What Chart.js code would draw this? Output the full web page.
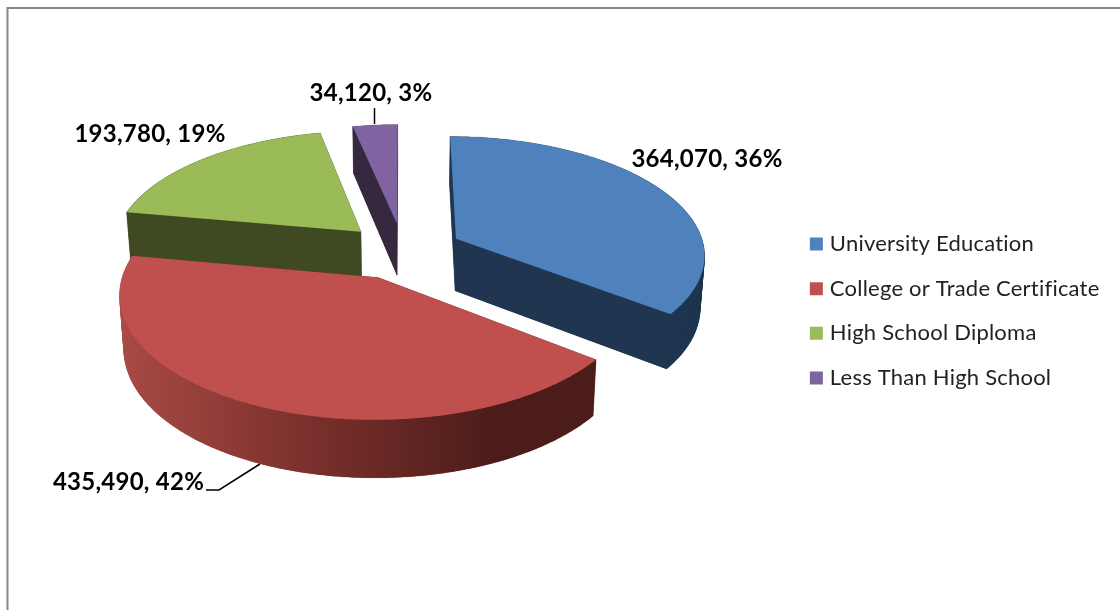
<!DOCTYPE html>
<html><head><meta charset="utf-8">
<style>html,body{margin:0;padding:0;background:#fff}canvas{display:block;filter:blur(0.45px)}</style>
<script src="https://cdn.jsdelivr.net/npm/chart.js@4"></script>
</head><body><canvas id="c" width="1120" height="610"></canvas>
<script>
const categories = ['University Education','College or Trade Certificate','High School Diploma','Less Than High School'];
const values = [364070,435490,193780,34120];
const percents = [36,42,19,3];
const colors = ['#4F81BD','#C0504D','#9BBB59','#8064A2'];
const wallColors = ['#1F3550','#4B1C19','#404A22','#35283F'];

// camera used to tilt the library's arcs into the 3-D look
const cam = {ox:403, oy:251, a:249, b:117.6, p:-0.1235, explode:0.24, shrink:0.985, drop:52.5, dropV:4.5};
const drawOrder = [3,2,0,1];
const labelStyle = [
  {x:707,y:159},{x:128.5,y:482},{x:150,y:134},{x:371,y:93}
];
function project(el, angle, r, low){
  const mid=(el.startAngle+el.endAngle)/2;
  const u=Math.cos(angle)*r+cam.explode*Math.cos(mid);
  const v=Math.sin(angle)*r+cam.explode*Math.sin(mid);
  const w=1+cam.p*v;
  let x=cam.ox+cam.a*u/w, y=cam.oy+cam.b*v/w;
  if(low){ x=cam.ox+cam.shrink*(x-cam.ox); y+=cam.drop+cam.dropV*v; }
  return [x,y];
}
function outline(el, low){
  const pts=[project(el,el.startAngle,0,low)];
  const n=Math.max(8,Math.ceil((el.endAngle-el.startAngle)/0.01));
  for(let i=0;i<=n;i++) pts.push(project(el,el.startAngle+(el.endAngle-el.startAngle)*i/n,1,low));
  return pts;
}
function poly(ctx,pts){ctx.beginPath();pts.forEach((p,i)=>i?ctx.lineTo(p[0],p[1]):ctx.moveTo(p[0],p[1]));ctx.closePath();}

const pie3d = {
  id:'pie3d',
  beforeLayout(chart){ chart.ctx.letterSpacing='0.22px'; },
  beforeDraw(chart){
    const ctx=chart.ctx;
    ctx.letterSpacing='0.22px';
    ctx.save();ctx.fillStyle='#fff';ctx.fillRect(0,0,chart.width,chart.height);
    ctx.strokeStyle='#868686';ctx.lineWidth=2;ctx.beginPath();
    ctx.moveTo(7.5,chart.height);ctx.lineTo(7.5,8);ctx.lineTo(chart.width,8);ctx.stroke();ctx.restore();
  },
  beforeDatasetsDraw(chart){
    const ctx=chart.ctx, arcs=chart.getDatasetMeta(0).data;
    ctx.save();
    drawOrder.forEach(i=>{
      const el=arcs[i], top=outline(el,false), low=outline(el,true);
      let wall=wallColors[i];
      if(i===1){
        const g=ctx.createLinearGradient(120,0,500,0);
        g.addColorStop(0,'#A94A45');g.addColorStop(0.5,'#7A302C');g.addColorStop(1,'#4B1C19');
        wall=g;
      }
      ctx.fillStyle=wall;ctx.strokeStyle=wall;ctx.lineWidth=0.3;
      poly(ctx,low);ctx.fill();
      for(let k=0;k<top.length;k++){
        const k2=(k+1)%top.length;
        poly(ctx,[top[k],top[k2],low[k2],low[k]]);ctx.fill();ctx.stroke();
      }
      ctx.fillStyle=colors[i];poly(ctx,top);ctx.fill();
    });
    // leader lines
    ctx.strokeStyle='#000';ctx.lineWidth=1.5;
    ctx.beginPath();ctx.moveTo(374.5,108);ctx.lineTo(374.5,124);ctx.stroke();
    ctx.beginPath();ctx.moveTo(260,464);ctx.lineTo(219,490);ctx.lineTo(206,490);ctx.stroke();
    // data labels
    ctx.fillStyle='#000';ctx.font='bold 24px Lato';ctx.textAlign='center';ctx.textBaseline='middle';ctx.letterSpacing='0.25px';
    values.forEach((val,i)=>{
      ctx.fillText(val.toLocaleString('en-US')+', '+percents[i]+'%',labelStyle[i].x,labelStyle[i].y);
    });
    ctx.letterSpacing='0.22px';
    ctx.restore();
    return false;
  }
};

new Chart(document.getElementById('c'),{
  type:'pie',
  data:{labels:categories,datasets:[{data:values,backgroundColor:colors,borderWidth:0}]},
  options:{
    responsive:false,animation:false,
    layout:{padding:{top:12,right:10.5,bottom:0,left:0}},
    plugins:{
      tooltip:{enabled:false},
      legend:{position:'right',labels:{
        font:{family:'Lato',size:22},color:'#222',
        boxWidth:5,boxHeight:5,padding:22.7,
        generateLabels(chart){
          return categories.map((t,i)=>({text:t,fillStyle:colors[i],strokeStyle:colors[i],lineWidth:8,index:i,hidden:false,fontColor:'#222'}));
        }
      }}
    }
  },
  plugins:[pie3d]
});
</script></body></html>
